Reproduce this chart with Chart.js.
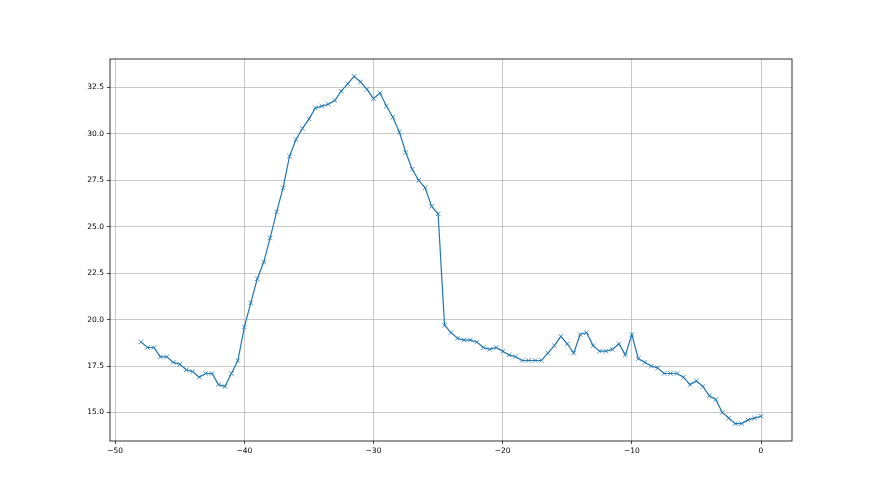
<!DOCTYPE html>
<html>
<head>
<meta charset="utf-8">
<script src="https://cdn.jsdelivr.net/npm/chart.js@4"></script>
<style>
  html, body { margin: 0; padding: 0; background: #fff; }
  canvas { display: block; }
</style>
</head>
<body>
<canvas id="lineChart" width="880" height="495"></canvas>
<script>
const xValues = [
  -48, -47.5, -47, -46.5, -46, -45.5, -45, -44.5, -44, -43.5,
  -43, -42.5, -42, -41.5, -41, -40.5, -40, -39.5, -39, -38.5,
  -38, -37.5, -37, -36.5, -36, -35.5, -35, -34.5, -34, -33.5,
  -33, -32.5, -32, -31.5, -31, -30.5, -30, -29.5, -29, -28.5,
  -28, -27.5, -27, -26.5, -26, -25.5, -25, -24.5, -24, -23.5,
  -23, -22.5, -22, -21.5, -21, -20.5, -20, -19.5, -19, -18.5,
  -18, -17.5, -17, -16.5, -16, -15.5, -15, -14.5, -14, -13.5,
  -13, -12.5, -12, -11.5, -11, -10.5, -10, -9.5, -9, -8.5,
  -8, -7.5, -7, -6.5, -6, -5.5, -5, -4.5, -4, -3.5,
  -3, -2.5, -2, -1.5, -1, -0.5, 0
];
const yValues = [
  18.8, 18.5, 18.5, 18.0, 18.0, 17.7, 17.6, 17.3, 17.2, 16.9,
  17.1, 17.1, 16.5, 16.4, 17.1, 17.8, 19.6, 20.9, 22.2, 23.1,
  24.4, 25.8, 27.1, 28.8, 29.7, 30.3, 30.8, 31.4, 31.5, 31.6,
  31.8, 32.3, 32.7, 33.1, 32.8, 32.4, 31.9, 32.2, 31.5, 30.9,
  30.1, 29.0, 28.1, 27.5, 27.1, 26.1, 25.7, 19.7, 19.3, 19.0,
  18.9, 18.9, 18.8, 18.5, 18.4, 18.5, 18.3, 18.1, 18.0, 17.8,
  17.8, 17.8, 17.8, 18.2, 18.6, 19.1, 18.7, 18.2, 19.2, 19.3,
  18.6, 18.3, 18.3, 18.4, 18.7, 18.1, 19.2, 17.9, 17.7, 17.5,
  17.4, 17.1, 17.1, 17.1, 16.9, 16.5, 16.7, 16.4, 15.9, 15.7,
  15.0, 14.7, 14.4, 14.4, 14.6, 14.7, 14.8
];
const xTicks = [-50, -40, -30, -20, -10, 0];
const yTicks = [15.0, 17.5, 20.0, 22.5, 25.0, 27.5, 30.0, 32.5];

const lineColor = '#1f77b4';
const tickFont = { family: 'DejaVu Sans', size: 7.5 };

// matplotlib style box around the axes
const frameBox = {
  id: 'frameBox',
  afterDraw(chart) {
    const { ctx, chartArea: a } = chart;
    ctx.save();
    ctx.strokeStyle = '#000';
    ctx.lineWidth = 0.8;
    ctx.strokeRect(a.left, a.top, a.right - a.left, a.bottom - a.top);
    ctx.restore();
  }
};

let points = xValues.map((x, i) => ({ x: x, y: yValues[i] }));

let lineChartCfg = {
  type: 'line',
  data: {
    datasets: [{
      data: points,
      borderColor: lineColor,
      backgroundColor: lineColor,
      borderWidth: 1.2,
      pointStyle: 'crossRot',
      pointRadius: 3.2,
      pointBorderWidth: 0.8,
      pointBorderColor: lineColor,
      tension: 0,
      fill: false
    }]
  },
  options: {
    responsive: false,
    animation: false,
    layout: { padding: { left: 0, right: 88, top: 59, bottom: 0 } },
    plugins: { legend: { display: false }, tooltip: { enabled: false } },
    scales: {
      x: {
        type: 'linear',
        min: -50.4,
        max: 2.4,
        afterBuildTicks: (scale) => { scale.ticks = xTicks.map(v => ({ value: v })); },
        afterFit: (scale) => { scale.height = 54; },
        grid: { color: '#b0b0b0', lineWidth: 0.7, tickColor: '#000', tickLength: 3 },
        border: { display: false },
        ticks: {
          color: '#000',
          font: tickFont,
          padding: 3,
          maxRotation: 0,
          callback: (v) => (v < 0 ? '\u2212' + Math.abs(v) : '' + v)
        }
      },
      y: {
        type: 'linear',
        min: 13.465,
        max: 34.035,
        afterBuildTicks: (scale) => { scale.ticks = yTicks.map(v => ({ value: v })); },
        afterFit: (scale) => { scale.width = 110; },
        grid: { color: '#b0b0b0', lineWidth: 0.7, tickColor: '#000', tickLength: 3 },
        border: { display: false },
        ticks: {
          color: '#000',
          font: tickFont,
          padding: 3,
          callback: (v) => v.toFixed(1)
        }
      }
    }
  },
  plugins: [frameBox]
};

let chart = new Chart(document.getElementById('lineChart'), lineChartCfg);
</script>
</body>
</html>
